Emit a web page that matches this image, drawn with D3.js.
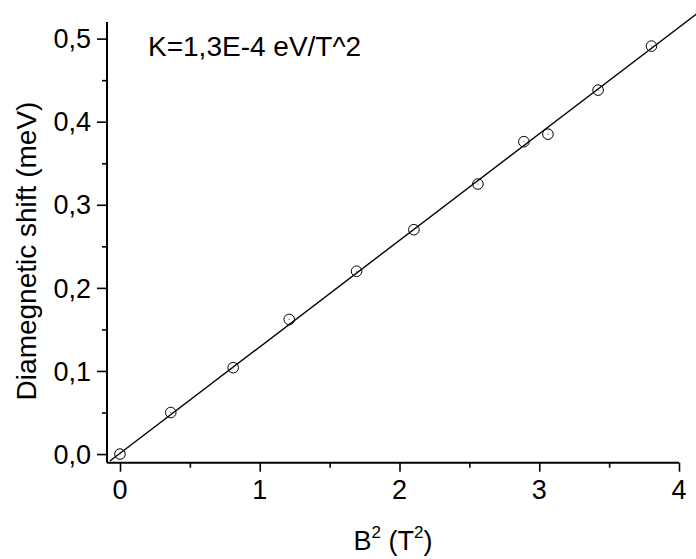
<!DOCTYPE html>
<html><head><meta charset="utf-8">
<script src="https://cdn.jsdelivr.net/npm/d3@7/dist/d3.min.js"></script>
<style>
body{margin:0;background:#fff;}
text{font-family:"Liberation Sans",Arial,sans-serif;fill:#000;}
</style></head>
<body><svg id="c" width="696" height="559"></svg>
<script>
// Data
const bSquared = [0, 0.363, 0.81, 1.211, 1.693, 2.103, 2.561, 2.89, 3.062, 3.421, 3.803];
const shift    = [0, 0.050, 0.104, 0.162, 0.220, 0.270, 0.325, 0.376, 0.385, 0.438, 0.491];
const fitSlope = 0.1282;      // meV per T^2
const fitIntercept = 0.0008;  // meV
const fitRange = [-0.072, 4.3];
const xTicks = [0, 1, 2, 3, 4];
const yTicks = [0, 0.1, 0.2, 0.3, 0.4, 0.5];

const svg = d3.select("#c");
const x = d3.scaleLinear().domain([-0.093, 4]).range([107, 679]);
const y = d3.scaleLinear().domain([-0.0104, 0.52]).range([462.7, 22]);
const fmt = d => d3.format(".1f")(d).replace(".", ",");

// fit line (unclipped)
const fit = fitRange.map(v => [v, fitIntercept + fitSlope * v]);
svg.append("path")
  .attr("d", d3.line().x(d => x(d[0])).y(d => y(d[1]))(fit))
  .attr("stroke", "#000").attr("stroke-width", 1.4).attr("fill", "none");

// points
const pts = svg.append("g");
bSquared.forEach((b, i) => {
  pts.append("circle").attr("cx", x(b)).attr("cy", y(shift[i])).attr("r", 5.3)
    .attr("fill", "none").attr("stroke", "#000").attr("stroke-width", 1);
  pts.append("circle").attr("cx", x(b)).attr("cy", y(shift[i])).attr("r", 0.6)
    .attr("fill", "#555");
});

// axes
const xAxisG = svg.append("g").attr("transform", `translate(0,${y.range()[0]})`);
xAxisG.call(d3.axisBottom(x).tickValues(d3.range(0, 4.01, 0.5)).tickSize(5).tickFormat(""));
xAxisG.call(g => g.selectAll(".tick").filter(d => xTicks.includes(d)).select("line").attr("y2", 9));
xAxisG.select(".domain").attr("d", `M${x.range()[0]},0H${x.range()[1]}`);
const yAxisG = svg.append("g").attr("transform", `translate(${x.range()[0]},0)`);
yAxisG.call(d3.axisLeft(y).tickValues(d3.range(0, 0.501, 0.05).map(v => +v.toFixed(2))).tickSize(5).tickFormat(""));
yAxisG.call(g => g.selectAll(".tick").filter(d => yTicks.some(t => Math.abs(t - d) < 1e-9)).select("line").attr("x2", -10));
yAxisG.select(".domain").attr("d", `M0,${y.range()[0]}V${y.range()[1]}`);
svg.selectAll(".domain").attr("stroke-width", 2).attr("stroke", "#000");
svg.selectAll(".tick line").attr("stroke-width", 1.6).attr("stroke", "#000");

// tick labels
svg.append("g").selectAll("text").data(xTicks).join("text")
  .attr("x", d => x(d)).attr("y", 499).attr("text-anchor", "middle")
  .attr("font-size", 27).text(d => d);
svg.append("g").selectAll("text").data(yTicks).join("text")
  .attr("x", 91).attr("y", d => y(d) + 9.7).attr("text-anchor", "end")
  .attr("font-size", 27).text(fmt);

// axis titles
const xt = svg.append("text").attr("x", 393).attr("y", 550).attr("text-anchor", "middle").attr("font-size", 27);
xt.append("tspan").text("B");
xt.append("tspan").attr("font-size", 17).attr("dy", -12).text("2");
xt.append("tspan").attr("dy", 12).text(" (T");
xt.append("tspan").attr("font-size", 17).attr("dy", -12).text("2");
xt.append("tspan").attr("dy", 12).text(")");

svg.append("text").attr("transform", "translate(36,251) rotate(-90)")
  .attr("text-anchor", "middle").attr("font-size", 28).text("Diamegnetic shift (meV)");

svg.append("text").attr("x", 148).attr("y", 56).attr("font-size", 28).text("K=1,3E-4 eV/T^2");
</script></body></html>
